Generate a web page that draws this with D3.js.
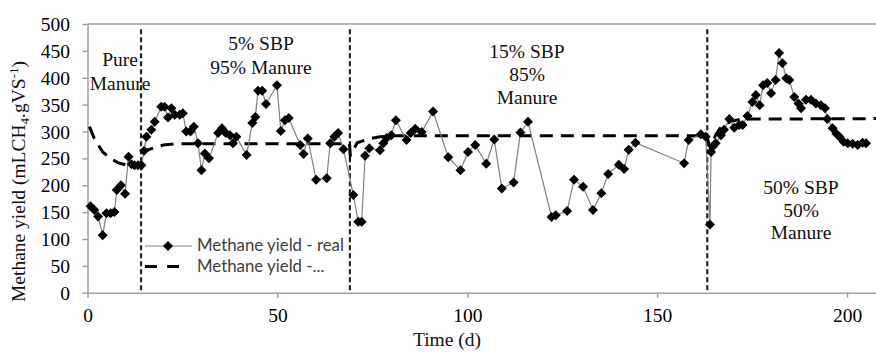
<!DOCTYPE html>
<html>
<head>
<meta charset="utf-8">
<script src="https://cdn.jsdelivr.net/npm/d3@7"></script>
<style>
  body { margin: 0; background: #fff; }
  svg { display: block; }
</style>
</head>
<body>
<script>
// measured series (day, mL CH4 / g VS)
const realDay = [
  0.8, 1.8, 2.8, 4, 5, 6.1, 7.1, 7.7, 8.8, 9.9, 10.8, 11.6, 12.4, 13.3, 14.2,
  14.9, 15.5, 16.8, 17.7, 19.4, 20.3, 21.2, 22.1, 23, 24.3, 25.1, 26, 27.1, 28, 29.1, 30, 30.9, 32,
  34.4, 35.4, 36.4, 37.5, 38.3, 39.2, 41.9, 43.4, 44.2, 44.9, 46, 47, 49.9, 50.9, 52, 53, 56, 56.9,
  58, 60.2, 63, 63.9, 65, 66, 67.4, 70, 71.3, 72.2,
  73.1, 74.2, 77, 77.9, 78.8, 80, 81.2, 84, 85.1, 86.3, 88, 91, 95, 98.2, 100.2, 102.1, 105, 107.1,
  109.1, 112.2, 114, 116, 122.2, 123.3, 126.3, 128.1, 130.5, 133.1, 135.3, 137.1, 139.9, 141.3,
  142.5, 144.3, 157.1, 158.3, 161.5, 162.8,
  163.9, 164.2, 164.7, 165.4, 166.8, 167.6, 169, 170.3, 171.6, 172.5, 173.8, 175.1, 176, 177, 177.9,
  179, 180, 181.2, 182.1, 183, 184, 184.8, 186.1, 187.2, 187.9, 189.2, 190.5, 191.8, 193.1, 194.2,
  194.8, 196.2, 197.2, 198, 199.1, 200.2, 201.5, 202.8, 204.1, 205
];
const realYield = [
  161, 154, 142, 107, 148, 148, 150, 191, 200, 184, 253, 239, 237, 237, 237,
  264, 290, 303, 318, 346, 346, 326, 343, 331, 331, 334, 300, 300, 309, 278, 228, 259, 250,
  297, 306, 297, 293, 278, 290, 256, 316, 327, 376, 376, 351, 386, 301, 321, 325, 275, 258,
  287, 210, 213, 278, 290, 297, 267, 182, 132, 132,
  255, 269, 265, 278, 288, 293, 321, 284, 297, 305, 299, 337, 252, 228, 262, 275, 240, 285,
  194, 205, 298, 318, 141, 144, 152, 210, 197, 154, 185, 221, 238, 230,
  266, 279, 241, 284, 295, 290,
  127, 262, 272, 278, 293, 303, 323, 307, 312, 312, 329, 355, 368, 349, 386,
  390, 371, 396, 446, 427, 399, 396, 364, 352, 343, 359, 359, 352, 349, 343,
  323, 306, 296, 290, 281, 278, 277, 275, 279, 278
];

// model series
const modelDay = [0.5, 1.8, 4, 6, 8, 11, 14, 14.3, 16, 18, 20, 23, 69, 69.2, 71, 74, 77, 80, 163,
  164, 165.5, 167, 169, 172, 210];
const modelYield = [309, 287, 262, 250, 242, 236, 235, 262, 266, 271, 275, 277, 277, 255, 279, 286, 290, 292, 292,
  270, 295, 310, 318, 323, 324];

const xTicks = [0, 50, 100, 150, 200];
const yTicks = [0, 50, 100, 150, 200, 250, 300, 350, 400, 450, 500];
const phaseStarts = [14.1, 69.1, 163.2];
const phaseLabels = [
  ['Pure', 'Manure'],
  ['5% SBP', '95% Manure'],
  ['15% SBP', '85%', 'Manure'],
  ['50% SBP', '50%', 'Manure']
];
const legendLabels = ['Methane yield - real', 'Methane yield -...'];

const width = 876;
const height = 352;
const serif = '"Liberation Serif", "Times New Roman", serif';
const axisColor = '#a0a0a0';

const svg = d3.select('body')
  .append('svg')
  .attr('width', width)
  .attr('height', height);

const x = d3.scaleLinear().domain([0, 210]).range([87.5, 885]);
const y = d3.scaleLinear().domain([0, 500]).range([292.7, 24]);

// top border of plot area
svg.append('line')
  .attr('x1', x(0)).attr('x2', x(210))
  .attr('y1', y(500)).attr('y2', y(500))
  .attr('stroke', axisColor)
  .attr('stroke-width', 1.5);

const yAxis = svg.append('g')
  .attr('transform', `translate(${x(0)},0)`)
  .call(d3.axisLeft(y).tickValues(yTicks).tickSize(5).tickSizeOuter(0));
yAxis.selectAll('text')
  .attr('x', -17.5)
  .attr('dy', '0.34em')
  .style('font-family', serif)
  .style('font-size', '19.5px')
  .attr('fill', '#000');

const xAxis = svg.append('g')
  .attr('transform', `translate(0,${y(0)})`)
  .call(d3.axisBottom(x).tickValues(xTicks).tickSize(5).tickSizeOuter(0));
xAxis.selectAll('text')
  .attr('y', 29)
  .attr('dy', 0)
  .style('font-family', serif)
  .style('font-size', '19.5px')
  .attr('fill', '#000');

svg.selectAll('.domain, .tick line')
  .attr('stroke', axisColor)
  .attr('stroke-width', 1.5);

// phase boundaries
svg.append('g')
  .selectAll('line')
  .data(phaseStarts)
  .join('line')
  .attr('x1', d => x(d)).attr('x2', d => x(d))
  .attr('y1', y(490)).attr('y2', y(0))
  .attr('stroke', '#222')
  .attr('stroke-width', 2.2)
  .attr('stroke-dasharray', '5,3');

// model line
const model = modelDay.map((d, i) => [d, modelYield[i]]);
svg.append('path')
  .datum(model)
  .attr('fill', 'none')
  .attr('stroke', '#000')
  .attr('stroke-width', 3)
  .attr('stroke-dasharray', '13,8')
  .attr('d', d3.line().x(d => x(d[0])).y(d => y(d[1])));

// measured line + markers
const real = realDay.map((d, i) => [d, realYield[i]]);
svg.append('path')
  .datum(real)
  .attr('fill', 'none')
  .attr('stroke', '#808080')
  .attr('stroke-width', 1.2)
  .attr('d', d3.line().x(d => x(d[0])).y(d => y(d[1])));

const diamond = d3.symbol(d3.symbolSquare, 50);
svg.append('g')
  .selectAll('path')
  .data(real)
  .join('path')
  .attr('d', diamond)
  .attr('transform', d => `translate(${x(d[0])},${y(d[1])}) rotate(45)`)
  .attr('fill', '#000');

// phase labels
const labelPos = [
  { cx: 120, y0: 66, step: 24 },
  { cx: 261, y0: 50, step: 24 },
  { cx: 527, y0: 58, step: 23 },
  { cx: 801, y0: 194, step: 22.5 }
];
phaseLabels.forEach((lines, i) => {
  const t = svg.append('text')
    .attr('text-anchor', 'middle')
    .style('font-family', serif)
    .style('font-size', '19.5px')
    .attr('fill', '#111');
  lines.forEach((s, j) => {
    t.append('tspan')
      .attr('x', labelPos[i].cx)
      .attr('y', labelPos[i].y0 + j * labelPos[i].step)
      .text(s);
  });
});

// axis titles
const yTitle = svg.append('text')
  .attr('transform', 'translate(25,302) rotate(-90)')
  .attr('text-anchor', 'start')
  .style('font-family', serif)
  .style('font-size', '19.5px')
  .attr('fill', '#111');
yTitle.append('tspan').text('Methane yield (mLCH');
yTitle.append('tspan').attr('dy', 4).style('font-size', '13px').text('4');
yTitle.append('tspan').attr('dy', -4).text('.gVS');
yTitle.append('tspan').attr('dy', -7).style('font-size', '13px').text('-1');
yTitle.append('tspan').attr('dy', 7).text(')');

svg.append('text')
  .attr('x', 447)
  .attr('y', 346)
  .attr('text-anchor', 'middle')
  .style('font-family', serif)
  .style('font-size', '19.5px')
  .attr('fill', '#111')
  .text('Time (d)');

// legend
const legend = svg.append('g');
legend.append('line')
  .attr('x1', 145).attr('x2', 192).attr('y1', 246).attr('y2', 246)
  .attr('stroke', '#808080').attr('stroke-width', 1.2);
legend.append('path')
  .attr('d', diamond)
  .attr('transform', 'translate(168,246) rotate(45)')
  .attr('fill', '#000');
legend.append('line')
  .attr('x1', 145).attr('x2', 181).attr('y1', 266.5).attr('y2', 266.5)
  .attr('stroke', '#000').attr('stroke-width', 3).attr('stroke-dasharray', '12,10');

const legendText = legend.selectAll('text')
  .data(legendLabels)
  .join('text')
  .attr('x', 197)
  .attr('y', (d, i) => 251 + i * 20.5)
  .style('font-family', 'Lato, "Open Sans", sans-serif')
  .style('font-size', '15px')
  .attr('fill', '#404040')
  .text(d => d);
// fit the first entry to the width seen in the reference
const w0 = legendText.node().getComputedTextLength();
const fs = 15 * 147 / w0;
legendText.style('font-size', `${fs}px`);
</script>
</body>
</html>
